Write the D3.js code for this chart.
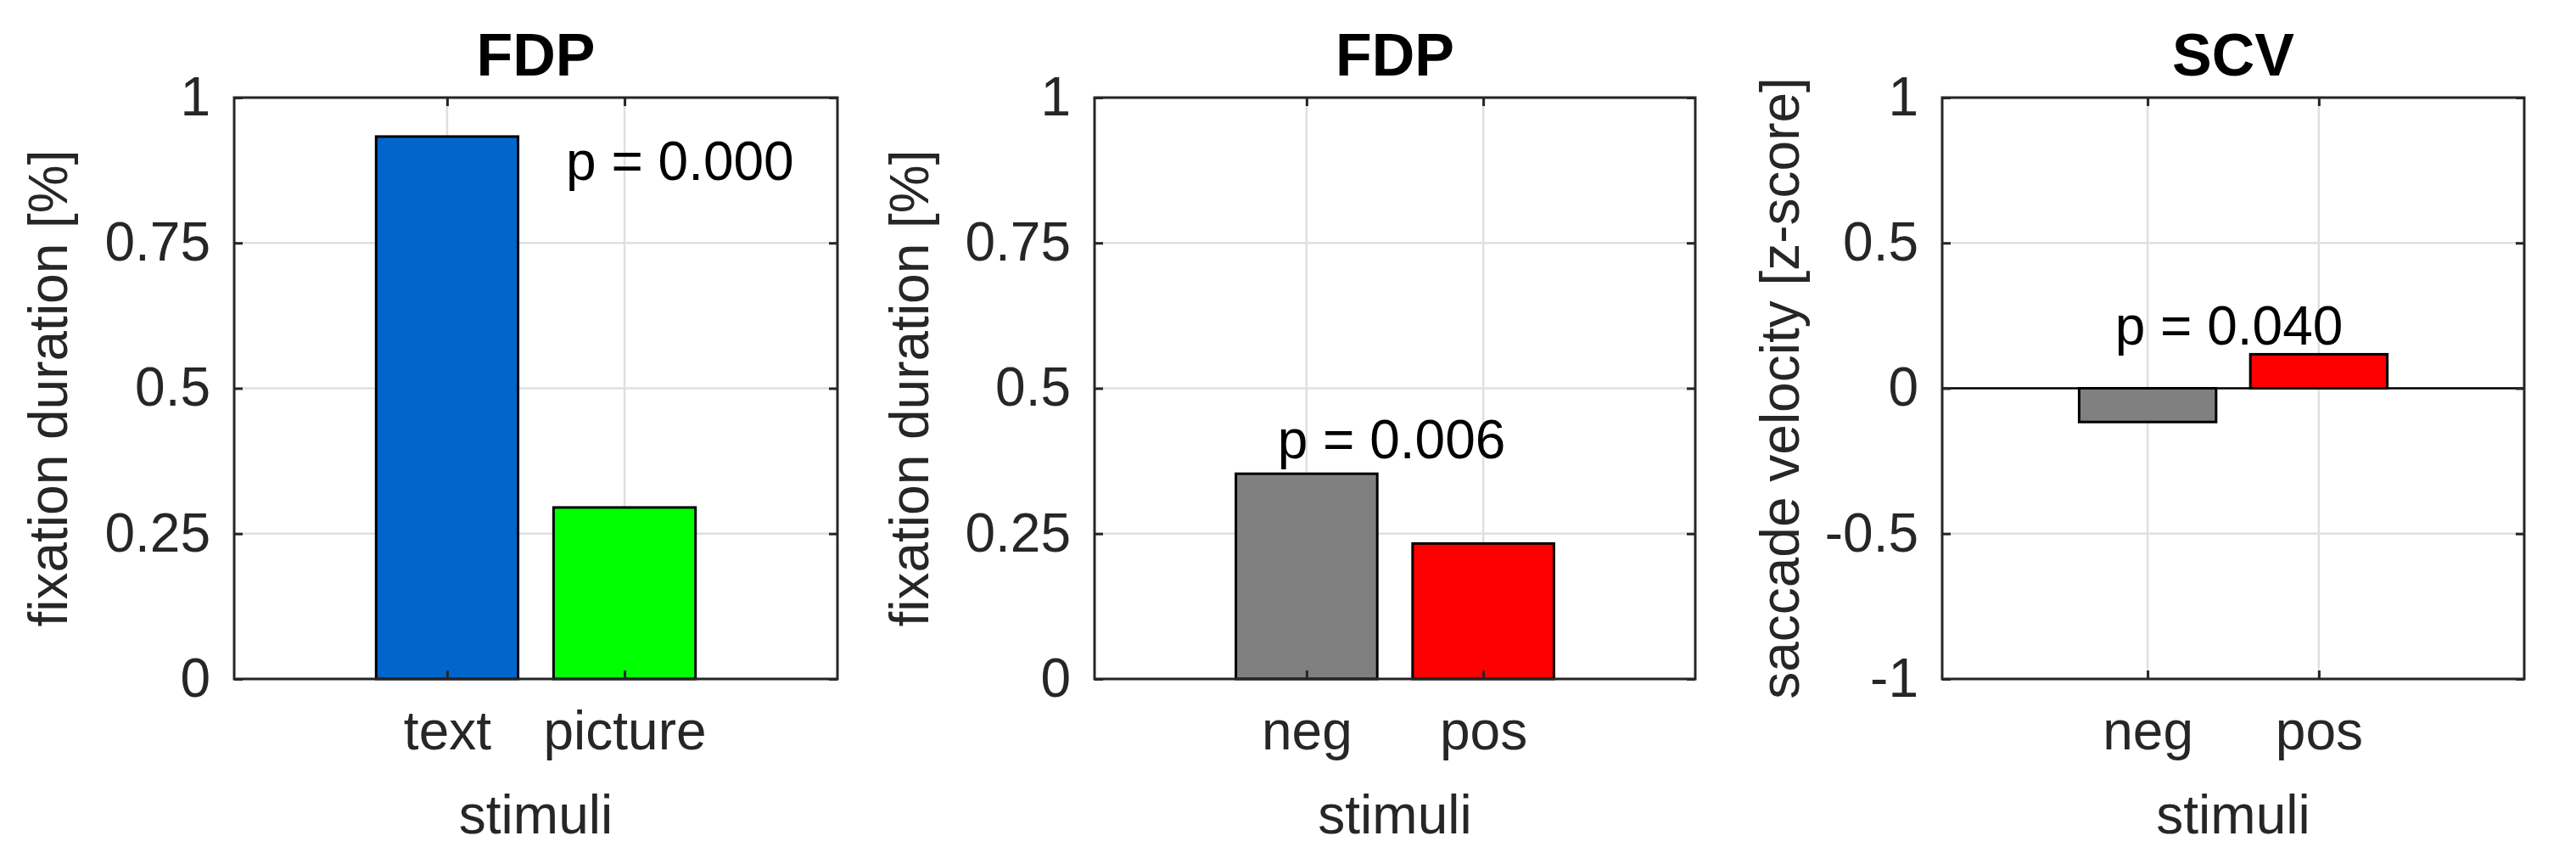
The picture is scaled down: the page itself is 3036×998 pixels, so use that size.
<!DOCTYPE html>
<html><head><meta charset="utf-8">
<script src="https://cdn.jsdelivr.net/npm/d3@7"></script>
<style>body{margin:0;background:#fff}</style></head>
<body><svg id="c" width="3036" height="998"></svg>
<script>
const titles = ["FDP", "FDP", "SCV"];
const categories1 = ["text", "picture"];
const categories2 = ["neg", "pos"];
const categories3 = ["neg", "pos"];
const values1 = [0.933, 0.295];
const values2 = [0.353, 0.233];
const values3 = [-0.116, 0.117];
const colors1 = ["#0066cc", "#00ff00"];
const colors2 = ["#808080", "#ff0000"];
const colors3 = ["#808080", "#ff0000"];
const yTicks1 = [0, 0.25, 0.5, 0.75, 1];
const yTicks3 = [-1, -0.5, 0, 0.5, 1];
const yLabels = ["fixation duration [%]", "fixation duration [%]", "saccade velocity [z-score]"];
const pTexts = ["p = 0.000", "p = 0.006", "p = 0.040"];
const pY = [0.90, 0.38, 0.15];

(function(){
const svg = d3.select("#c");
const font = "'Liberation Sans', Arial, sans-serif";
const panels = [
 {l:276,r:987,cats:categories1,vals:values1,cols:colors1,yd:[0,1],ticks:yTicks1,ylx:57,pAnchor:"start"},
 {l:1290,r:1998,cats:categories2,vals:values2,cols:colors2,yd:[0,1],ticks:yTicks1,ylx:1072,pAnchor:"middle"},
 {l:2289,r:2975,cats:categories3,vals:values3,cols:colors3,yd:[-1,1],ticks:yTicks3,ylx:2098,pAnchor:"middle",zero:true}
];
const pTop=115,pBot=800;
panels.forEach((p,i)=>{
  const x = d3.scaleLinear().domain([-0.2,3.2]).range([p.l,p.r]);
  const y = d3.scaleLinear().domain(p.yd).range([pBot,pTop]);
  const g = svg.append("g");
  g.selectAll(".gx").data([1,2]).enter().append("line").attr("x1",d=>x(d)).attr("x2",d=>x(d)).attr("y1",pTop).attr("y2",pBot).attr("stroke","#dfdfdf").attr("stroke-width",2.5);
  g.selectAll(".gy").data(p.ticks).enter().append("line").attr("x1",p.l).attr("x2",p.r).attr("y1",d=>y(d)).attr("y2",d=>y(d)).attr("stroke","#dfdfdf").attr("stroke-width",2.5);
  g.selectAll(".b").data(p.vals).enter().append("rect")
   .attr("x",(d,j)=>x(j+1-0.4)).attr("width",x(0.8)-x(0))
   .attr("y",d=>y(Math.max(0,d))).attr("height",d=>Math.abs(y(d)-y(0)))
   .attr("fill",(d,j)=>p.cols[j]).attr("stroke","#000").attr("stroke-width",3);
  if(p.zero) g.append("line").attr("x1",p.l).attr("x2",p.r).attr("y1",y(0)).attr("y2",y(0)).attr("stroke","#000").attr("stroke-width",2.5);
  const ya = d3.axisLeft(y).tickValues(p.ticks).tickSizeInner(-10).tickSizeOuter(0).tickPadding(28).tickFormat(d=>String(d));
  const yr = d3.axisRight(y).tickValues(p.ticks).tickSizeInner(-10).tickSizeOuter(0).tickFormat("");
  const xa = d3.axisBottom(x).tickValues([1,2]).tickSizeInner(-10).tickSizeOuter(0).tickPadding(38).tickFormat(d=>p.cats[d-1]);
  const xt = d3.axisTop(x).tickValues([1,2]).tickSizeInner(-10).tickSizeOuter(0).tickFormat("");
  [[ya,`translate(${p.l},0)`],[yr,`translate(${p.r},0)`],[xa,`translate(0,${pBot})`],[xt,`translate(0,${pTop})`]].forEach(([a,t])=>{
    const ag=g.append("g").attr("transform",t).call(a);
    ag.select(".domain").remove();
    ag.selectAll("line").attr("stroke","#262626").attr("stroke-width",3);
    ag.selectAll("text").attr("fill","#262626").style("font-family",font).style("font-size","64px");
  });
  g.append("rect").attr("x",p.l).attr("y",pTop).attr("width",p.r-p.l).attr("height",pBot-pTop).attr("fill","none").attr("stroke","#262626").attr("stroke-width",3);
  const cx=(p.l+p.r)/2;
  g.append("text").attr("x",cx).attr("y",89).attr("text-anchor","middle").style("font-family",font).style("font-weight","bold").style("font-size","70px").text(titles[i]);
  g.append("text").attr("x",cx).attr("y",982).attr("text-anchor","middle").attr("fill","#262626").style("font-family",font).style("font-size","64px").text("stimuli");
  g.append("text").attr("transform",`translate(${p.ylx+22},${(pTop+pBot)/2}) rotate(-90)`).attr("text-anchor","middle").attr("fill","#262626").style("font-family",font).style("font-size","64px").text(yLabels[i]);
  const px = i===0 ? 667 : (i===1 ? 1640 : 2627);
  g.append("text").attr("x",px).attr("y",y(pY[i])+(i===0?28:0)).attr("text-anchor",p.pAnchor).style("font-family",font).style("font-size","64px").text(pTexts[i]);
});
})();
</script></body></html>
